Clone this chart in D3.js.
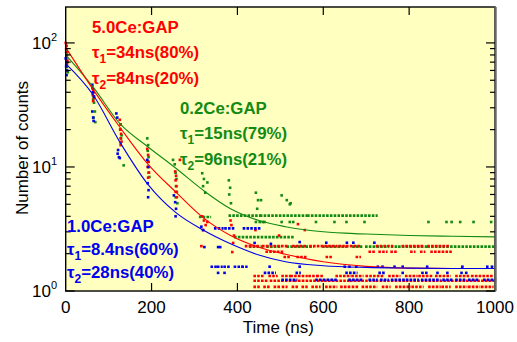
<!DOCTYPE html>
<html>
<head>
<meta charset="utf-8">
<script src="https://cdn.jsdelivr.net/npm/d3@7"></script>
<style>
  body { margin: 0; background: #fff; }
  svg { display: block; font-family: "Liberation Sans", Arial, sans-serif; }
</style>
</head>
<body>
<svg id="chart" width="517" height="342"></svg>
<script>
// tick labels
const xTicks = [0, 200, 400, 600, 800, 1000];
const yTicks = [1, 10, 100];
const yTickExp = ["0", "1", "2"];

// fit curves
const fitT = [0, 64, 128, 192, 256, 320, 384, 450, 512, 600, 700, 800, 900, 1000];
const redFit = [92, 42, 20.5, 10.5, 6.3, 3.9, 2.8, 2.25, 1.98, 1.72, 1.58, 1.53, 1.52, 1.52];
const greenFit = [80, 44, 22, 14.5, 9.8, 6.5, 4.6, 3.7, 3.3, 3.0, 2.88, 2.8, 2.76, 2.73];
const blueFit = [68, 38, 15.5, 7.2, 4.3, 3.1, 2.4, 1.95, 1.72, 1.6, 1.55, 1.53, 1.52, 1.52];

// single points [t, counts]
const redPts = [
  [0,100],[2,95],[1,90],[3,84],[2,78],[4,72],[3,68],
  [62,44],[64,42],[65,40],[63,38],[66,36],[64,34],
  [126,24],[128,22],[127,20],[129,18.5],[128,17],[130,16],[128,15],
  [190,14],[192,12.5],[193,11],[191,10],[194,9],[192,8.2],
  [266,11.4],[255,9.2],[257,8.5],[256,7.8],[258,7],[256,6.3],[259,5.7],
  [318,4.0],[322,3.7],[326,3.4],[320,3.1],[330,3.6],[316,2.3],
  [384,3.7],[386,3.4],[390,2.44],[388,2.06],[392,2.8],
  [442,3.1],[497,2.8],[541,3.46],[557,3.1]
];
const greenPts = [
  [1,85],[3,80],[2,75],[4,70],[3,64],[5,58],
  [63,40],[65,37],[64,35],[66,33],[68,28],[65,25],[69,23],
  [128,22],[127,20],[130,18],[129,17],[128,15.6],[135,10.3],
  [190,17],[192,15],[191,13.5],[193,12],[192,11],[194,10],[193,9],[195,8.3],
  [250,11.4],[254,10.5],[256,9],[258,8],[257,7],[259,6.3],[256,5.7],[260,5.1],
  [318,8.9],[322,8],[320,7],[325,6.2],[330,7.5],
  [380,7.8],[383,6.8],[381,6],[385,5.1],
  [443,6.2],[448,5.4],[446,4.6],[455,5.4],[522,5.0],[503,5.9],[515,5.4],[524,5.1],
  [443,3.6],[452,3.6],[459,3.6],[463,3.6],[503,3.6],[522,3.6],[530,3.6],[583,3.6],
  [626,3.6],[654,3.6],[696,3.6],[845,3.6],[887,3.6],[899,3.6],[919,3.6],[950,3.6],[991,3.6]
];
const bluePts = [
  [0,75],[2,70],[1,65],[3,60],[2,55],
  [62,46],[63,43],[64,40],[66,37],[62,28],[64,25],[65,23.5],
  [118,27],[120,25],[122,13.7],[124,12],[126,11.8],[121,12.8],
  [190,11.4],[192,10],[191,7.4],[193,6.5],[192,5.7],
  [252,5.9],[255,5.2],[257,4.6],[256,4.0],
  [316,3.3],[320,3.1],[323,2.26],[355,2.26],[360,2.26],
  [440,2.44],[478,2.4],[545,2.48],[607,2.45],[655,2.45],[670,2.45],[719,2.45],
  [475,1.57],[545,1.57],[650,1.57],[661,1.57],[677,1.57],[727,1.57],[738,1.57],
  [766,1.57],[785,1.57],[842,1.57],[924,1.57],[982,1.57],[993,1.57],
  [355,1.4],[370,1.4],[785,1.4],[831,1.4],[840,1.4],[866,1.4],[889,1.4],[922,1.4],[933,1.4]
];

// runs of adjacent points [tStart, tEnd, counts]
const redRuns = [
  [420,450,2.3],[460,515,2.3],[530,560,2.3],[570,630,2.3],[638,685,2.3],[725,760,2.3],[785,830,2.3],[845,890,2.3],
  [468,505,2.07],[708,720,2.07],[731,747,2.07],[759,770,2.07],[805,812,2.07],[828,835,2.07],[852,898,2.07],
  [510,522,1.88],[540,561,1.88],[608,619,1.88],[678,685,1.88],
  [440,458,1.32],[475,491,1.32],[505,522,1.32],[526,561,1.32],[568,584,1.32],[587,598,1.32],[631,662,1.32],
  [668,691,1.32],[701,738,1.32],[754,777,1.32],[793,817,1.32],[824,854,1.32],[863,894,1.32],[910,940,1.32],[947,994,1.32],
  [440,470,1.21],[478,530,1.21],[535,600,1.21],[605,660,1.21],[665,720,1.21],[725,790,1.21],[795,860,1.21],
  [865,930,1.21],[935,1000,1.21],
  [440,452,1.08],[463,475,1.08],[487,498,1.08],[506,514,1.08],[529,541,1.08],[552,561,1.08],[575,591,1.08],
  [607,630,1.08],[642,661,1.08],[669,680,1.08],[692,723,1.08],[739,754,1.08],[770,801,1.08],[808,831,1.08],
  [847,871,1.08],[878,894,1.08],[910,933,1.08],[940,963,1.08],[970,994,1.08]
];
const greenRuns = [
  [313,336,3.95],[382,452,4.05],[455,560,4.05],[565,640,4.05],[645,724,4.05],
  [395,530,2.72],
  [430,460,2.28],[470,500,2.28],[517,575,2.28],[600,620,2.28],[627,655,2.28],[670,690,2.28],
  [700,750,2.28],[760,770,2.28],[777,840,2.28],[845,1000,2.28]
];
const blueRuns = [
  [348,365,3.2],[372,390,3.2],[415,452,3.2],
  [340,352,1.57],[355,363,1.57],[370,382,1.57],[394,410,1.57],[412,421,1.57],
  [464,487,1.4],[538,545,1.4],[654,677,1.4],[731,743,1.4],
  [505,537,1.23],[584,631,1.23],[661,691,1.23],[708,724,1.23],[735,750,1.23],[760,790,1.23],
  [795,820,1.23],[830,870,1.23],[880,900,1.23],[910,930,1.23],[940,960,1.23],[975,1000,1.23]
];

const RED = "#ff0000", GREEN = "#138a13", BLUE = "#0000ee";

const svg = d3.select("#chart");
const pLeft = 65.7, pRight = 495, pTop = 7, pBottom = 291;

const x = d3.scaleLinear().domain([0, 1000]).range([pLeft, pRight]);
const y = d3.scaleLog().domain([1, 194.8]).range([pBottom, pTop]);

// plot background
svg.append("rect")
  .attr("x", pLeft).attr("y", pTop)
  .attr("width", pRight - pLeft).attr("height", pBottom - pTop)
  .attr("fill", "#ffffc0");

const plot = svg.append("g");

function drawRuns(runs, color) {
  plot.append("g").selectAll("line").data(runs).join("line")
    .attr("x1", d => x(d[0]) - 1.2)
    .attr("x2", d => x(d[1]) + 1.2)
    .attr("y1", d => y(d[2]))
    .attr("y2", d => y(d[2]))
    .attr("stroke", color)
    .attr("stroke-width", 2.6)
    .attr("stroke-dasharray", "2.6,1.2");
}
function drawPts(pts, color) {
  plot.append("g").selectAll("rect").data(pts).join("rect")
    .attr("x", d => x(d[0]) - 1.3)
    .attr("y", d => y(d[1]) - 1.3)
    .attr("width", 2.6).attr("height", 2.6)
    .attr("fill", color);
}

drawRuns(greenRuns, GREEN);
drawPts(greenPts, GREEN);
drawRuns(redRuns, RED);
drawPts(redPts, RED);
drawRuns(blueRuns, BLUE);
drawPts(bluePts, BLUE);

// fit curves
const line = d3.line()
  .x(d => x(d[0]))
  .y(d => y(d[1]))
  .curve(d3.curveMonotoneX);

[[greenFit, GREEN], [redFit, RED], [blueFit, BLUE]].forEach(([vals, c]) => {
  plot.append("path")
    .datum(fitT.map((t, i) => [t, vals[i]]))
    .attr("fill", "none")
    .attr("stroke", c)
    .attr("stroke-width", 1.1)
    .attr("d", line);
});

// frame
svg.append("rect")
  .attr("x", pLeft).attr("y", pTop)
  .attr("width", pRight - pLeft).attr("height", pBottom - pTop)
  .attr("fill", "none")
  .attr("stroke", "#000")
  .attr("stroke-width", 1.4);
svg.append("line")
  .attr("x1", pRight + 0.5).attr("x2", pRight + 0.5)
  .attr("y1", pTop).attr("y2", pBottom)
  .attr("stroke", "#666").attr("stroke-width", 2.4);

// ticks (inside)
const minor = [];
[1, 10, 100].forEach(dec => {
  for (let k = 2; k <= 9; k++) if (dec * k < 195) minor.push(dec * k);
});
const tickG = svg.append("g").attr("stroke", "#000").attr("stroke-width", 1.2);
yTicks.forEach(v => {
  tickG.append("line").attr("x1", pLeft).attr("x2", pLeft + 9).attr("y1", y(v)).attr("y2", y(v));
  tickG.append("line").attr("x1", pRight).attr("x2", pRight - 9).attr("y1", y(v)).attr("y2", y(v));
});
minor.forEach(v => {
  tickG.append("line").attr("x1", pLeft).attr("x2", pLeft + 5).attr("y1", y(v)).attr("y2", y(v));
  tickG.append("line").attr("x1", pRight).attr("x2", pRight - 5).attr("y1", y(v)).attr("y2", y(v));
});
xTicks.slice(1, -1).forEach(v => {
  tickG.append("line").attr("x1", x(v)).attr("x2", x(v)).attr("y1", pBottom).attr("y2", pBottom - 8);
  tickG.append("line").attr("x1", x(v)).attr("x2", x(v)).attr("y1", pTop).attr("y2", pTop + 8);
});

// x tick labels
svg.append("g").selectAll("text").data(xTicks).join("text")
  .attr("x", d => x(d))
  .attr("y", 313)
  .attr("text-anchor", "middle")
  .attr("font-size", 17)
  .text(d => d);

// y tick labels
yTicks.forEach((v, i) => {
  const t = svg.append("text")
    .attr("x", 57).attr("y", y(v) + 6)
    .attr("text-anchor", "end")
    .attr("font-size", 17);
  t.append("tspan").text("10");
  t.append("tspan").attr("dy", -8).attr("font-size", 11).text(yTickExp[i]);
});

// axis titles
svg.append("text")
  .attr("x", x(500) - 2).attr("y", 333)
  .attr("text-anchor", "middle")
  .attr("font-size", 17)
  .text("Time (ns)");
svg.append("text")
  .attr("transform", "translate(28,148) rotate(-90)")
  .attr("text-anchor", "middle")
  .attr("font-size", 17)
  .text("Number of counts");

// annotations
function label(xp, yp, color, title, t1, t2, gap1, gap2) {
  const g = svg.append("g").attr("fill", color).attr("font-size", 16.8).attr("font-weight", "bold");
  g.append("text").attr("x", xp).attr("y", yp).text(title);
  [[t1, "1", gap1], [t2, "2", gap2]].forEach(([txt, sub, dy]) => {
    const t = g.append("text").attr("x", xp).attr("y", yp + dy);
    t.append("tspan").text("τ");
    t.append("tspan").attr("dy", 5).attr("font-size", 12).text(sub);
    t.append("tspan").attr("dy", -5).text(txt);
  });
}
label(92, 33, RED, "5.0Ce:GAP", "=34ns(80%)", "=84ns(20%)", 24.5, 50.5);
label(180, 114, GREEN, "0.2Ce:GAP", "=15ns(79%)", "=96ns(21%)", 25, 51);
label(67, 232, BLUE, "1.0Ce:GAP", "=8.4ns(60%)", "=28ns(40%)", 22.5, 46);
</script>
</body>
</html>
